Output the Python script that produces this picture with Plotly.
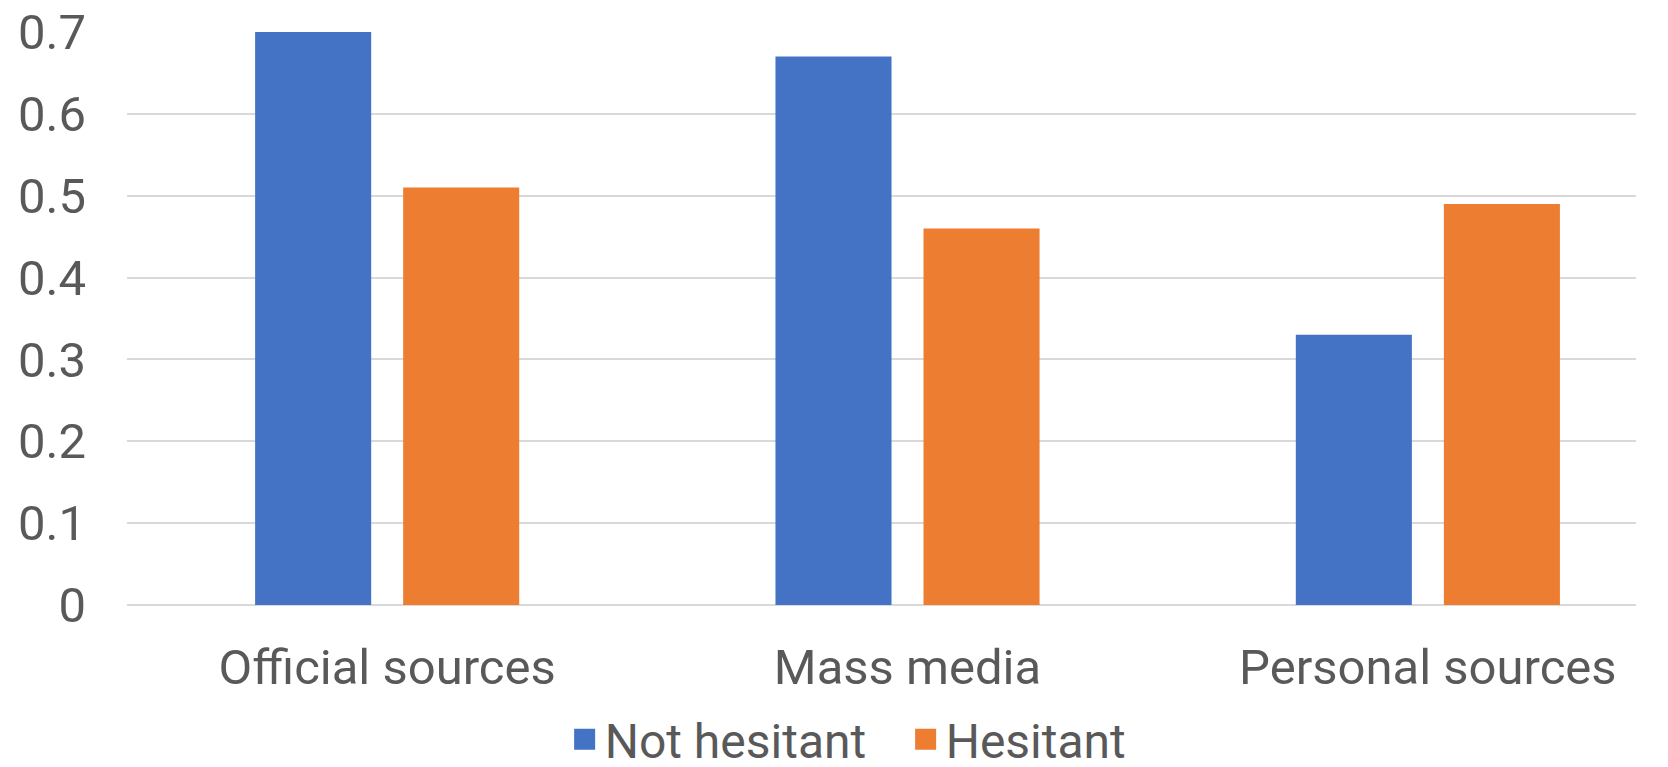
import plotly.graph_objects as go

categories = ["Official sources", "Mass media", "Personal sources"]
not_hesitant = [0.70, 0.67, 0.33]
hesitant = [0.51, 0.46, 0.49]
series_names = ["Not hesitant", "Hesitant"]
y_ticks = [0, 0.1, 0.2, 0.3, 0.4, 0.5, 0.6, 0.7]
y_ticktext = ["0", "0.1", "0.2", "0.3", "0.4", "0.5", "0.6", "0.7"]

BLUE = "#4472C4"
ORANGE = "#ED7D31"
TXT = "#595959"
GRID = "#D9D9D9"
FONT = "Roboto"

xpos = list(range(len(categories)))

fig = go.Figure()
fig.add_trace(go.Bar(x=xpos, y=not_hesitant, name=series_names[0],
                     marker=dict(color=BLUE, line=dict(width=0)), showlegend=False))
fig.add_trace(go.Bar(x=xpos, y=hesitant, name=series_names[1],
                     marker=dict(color=ORANGE, line=dict(width=0)), showlegend=False))
# legend entries
fig.add_trace(go.Scatter(x=[None], y=[None], mode="markers", name=series_names[0],
                         marker=dict(symbol="square", size=24, color=BLUE,
                                     line=dict(width=5, color=BLUE))))
fig.add_trace(go.Scatter(x=[None], y=[None], mode="markers", name=series_names[1],
                         marker=dict(symbol="square", size=24, color=ORANGE,
                                     line=dict(width=5, color=ORANGE))))

fig.update_layout(
    width=1668, height=767,
    margin=dict(l=127, r=32, t=32, b=162, autoexpand=False),
    paper_bgcolor="white", plot_bgcolor="white",
    barmode="group", bargap=0.431, bargroupgap=0.216,
    font=dict(family=FONT, color=TXT, size=48),
    legend=dict(orientation="h", x=0.516, xanchor="center", y=-0.235, yanchor="middle",
                font=dict(family=FONT, color=TXT, size=48), itemsizing="trace",
                itemwidth=30, entrywidth=296, entrywidthmode="pixels",
                bgcolor="rgba(0,0,0,0)"),
)
fig.update_xaxes(
    tickmode="array", tickvals=xpos, ticktext=categories,
    range=[-0.5, 2.4], showgrid=False, zeroline=False, showline=False,
    ticks="", ticklabelstandoff=29,
    tickfont=dict(family=FONT, color=TXT, size=49),
)
fig.update_yaxes(
    tickmode="array", tickvals=y_ticks, ticktext=y_ticktext,
    range=[0, 0.7], showgrid=True, gridcolor=GRID, gridwidth=1.5,
    zeroline=True, zerolinecolor=GRID, zerolinewidth=1.5, showline=False,
    ticks="", ticklabelstandoff=40,
    tickfont=dict(family=FONT, color=TXT, size=49),
)

fig.write_html("out.html")
